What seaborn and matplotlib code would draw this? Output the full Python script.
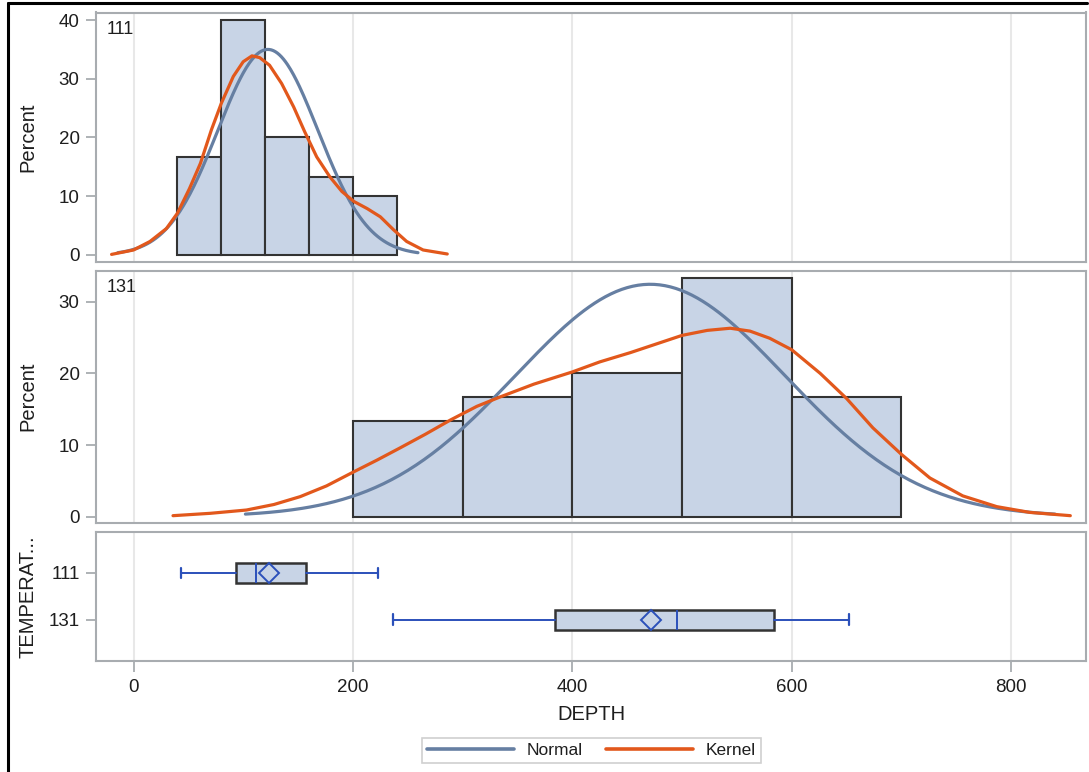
import numpy as np
import pandas as pd
import matplotlib
matplotlib.use("Agg")
import matplotlib.pyplot as plt
from matplotlib.lines import Line2D
import seaborn as sns

# ---------------- data ----------------
GROUPS = ["111", "131"]

BIN_EDGES_111 = [40, 80, 120, 160, 200, 240]
PERCENT_111 = [16.67, 40.0, 20.0, 13.33, 10.0]

BIN_EDGES_131 = [200, 300, 400, 500, 600, 700]
PERCENT_131 = [13.33, 16.67, 20.0, 33.33, 16.67]

# fitted normal parameters (mean, std) per group
NORMAL_MEAN = [122.5, 471.0]
NORMAL_STD = [45.6, 123.0]

# kernel density curves (DEPTH, Percent)
KERNEL_X_111 = [-20, 0, 15, 30, 40, 51, 61, 71, 80, 91, 100, 108, 115, 124, 135, 146, 156, 167,
                179, 190, 201, 213, 225, 237, 249, 264, 286]
KERNEL_Y_111 = [0.1, 0.85, 2.3, 4.5, 7.1, 11.3, 15.6, 21.3, 25.8, 30.4, 32.9, 33.9, 33.6, 32.3,
                29.2, 25.2, 21.0, 16.7, 13.3, 10.8, 9.1, 7.9, 6.5, 4.3, 2.3, 0.85, 0.17]

KERNEL_X_131 = [36, 70, 103, 128, 152, 176, 200, 222, 243, 266, 289, 313, 334, 365, 400, 425,
                453, 500, 523, 544, 562, 580, 600, 626, 650, 674, 700, 726, 756, 787, 817, 854]
KERNEL_Y_131 = [0.14, 0.47, 0.93, 1.7, 2.8, 4.3, 6.2, 7.9, 9.6, 11.5, 13.5, 15.4, 16.7, 18.5,
                20.2, 21.6, 22.9, 25.3, 26.0, 26.3, 25.9, 24.9, 23.3, 20.0, 16.5, 12.4, 8.7,
                5.4, 2.9, 1.4, 0.6, 0.14]

# box plot statistics per group
BOX_MIN = [43.3, 237.0]
BOX_Q1 = [93.2, 384.0]
BOX_MEDIAN = [111.7, 495.5]
BOX_MEAN = [123.2, 471.7]
BOX_Q3 = [157.0, 583.9]
BOX_MAX = [222.6, 652.0]

X_TICKS = [0, 200, 400, 600, 800]

# ---------------- style ----------------
sns.set_theme(style="white")
plt.rcParams["font.family"] = ["Liberation Sans", "DejaVu Sans"]

FILL = "#C8D4E6"
EDGE = "#333333"
NORMAL_C = "#667FA2"
KERNEL_C = "#E2581C"
BOX_BLUE = "#2B50BA"
FRAME = "#A8ACB0"
GRID = "#E8E8E8"
TXT = "#1E1E1E"

TICK_FS = 13.5
LABEL_FS = 14.5
PANEL_FS = 13

W, H = 1089, 772
fig = plt.figure(figsize=(W / 100, H / 100), dpi=100)


def px_axes(x0, y0, x1, y1):
    return fig.add_axes([x0 / W, 1 - y1 / H, (x1 - x0) / W, (y1 - y0) / H])


ax1 = px_axes(96, 12.5, 1086, 261.5)
ax2 = px_axes(96, 270.7, 1086, 522.7)
ax3 = px_axes(96, 531.7, 1086, 660.7)

XLIM = (-34.2, 868.3)
YLABEL_X = -0.059


def style_axes(ax):
    ax.set_xlim(*XLIM)
    for s in ax.spines.values():
        s.set_color(FRAME)
        s.set_linewidth(1.5)
    ax.set_xticks(X_TICKS)
    ax.grid(False)
    for xv in X_TICKS:
        ax.axvline(xv, color=GRID, lw=1.5, zorder=0)
    ax.tick_params(axis="y", which="major", left=True, length=7.3, width=1.3, color=FRAME,
                   labelsize=TICK_FS, pad=4.5, labelcolor=TXT)
    ax.tick_params(axis="x", which="major", bottom=True, length=8, width=1.3, color=FRAME,
                   labelsize=TICK_FS, pad=5.5, labelcolor=TXT)


hist_data = [
    (ax1, BIN_EDGES_111, PERCENT_111, 0, KERNEL_X_111, KERNEL_Y_111, (-1.11, 41.28), [0, 10, 20, 30, 40]),
    (ax2, BIN_EDGES_131, PERCENT_131, 1, KERNEL_X_131, KERNEL_Y_131, (-0.84, 34.33), [0, 10, 20, 30]),
]

for ax, edges, pct, gi, kx, ky, ylim, yt in hist_data:
    style_axes(ax)
    centers = [(a + b) / 2 for a, b in zip(edges[:-1], edges[1:])]
    df = pd.DataFrame({"DEPTH": centers, "Percent": pct})
    sns.histplot(data=df, x="DEPTH", weights="Percent", bins=list(edges), ax=ax, color=FILL,
                 edgecolor=EDGE, linewidth=1.5, alpha=1.0, zorder=2)
    # normal fit curve, scaled to percent of bin width
    bw = edges[1] - edges[0]
    mu, sd = NORMAL_MEAN[gi], NORMAL_STD[gi]
    nx = np.linspace(mu - 3 * sd, mu + 3 * sd, 300)
    ny = 100 * bw * np.exp(-0.5 * ((nx - mu) / sd) ** 2) / (sd * np.sqrt(2 * np.pi))
    sns.lineplot(x=nx, y=ny, ax=ax, color=NORMAL_C, lw=2.3, zorder=3, legend=False)
    sns.lineplot(x=kx, y=ky, ax=ax, color=KERNEL_C, lw=2.3, zorder=4, legend=False)
    ax.set_ylim(*ylim)
    ax.set_yticks(yt)
    ax.set_yticklabels([str(v) for v in yt])
    ax.tick_params(axis="x", bottom=False, labelbottom=False)
    ax.set_xlabel("")
    ax.set_ylabel("Percent", fontsize=LABEL_FS, color=TXT)
    ax.yaxis.set_label_coords(YLABEL_X, 0.5)
    ax.text(0.0105, 0.966, GROUPS[gi], transform=ax.transAxes, ha="left", va="top",
            fontsize=PANEL_FS, color=TXT, zorder=5)

# ---------------- box plot panel ----------------
style_axes(ax3)
stats = []
for i, g in enumerate(GROUPS):
    stats.append(dict(label=g, whislo=BOX_MIN[i], q1=BOX_Q1[i], med=BOX_MEDIAN[i],
                      mean=BOX_MEAN[i], q3=BOX_Q3[i], whishi=BOX_MAX[i]))
ax3.bxp(stats, positions=[0, 1], orientation="horizontal", widths=0.43, patch_artist=True,
        showmeans=True, showfliers=False, capwidths=0.22,
        boxprops=dict(facecolor=FILL, edgecolor=EDGE, linewidth=1.8),
        medianprops=dict(color=BOX_BLUE, linewidth=1.4),
        whiskerprops=dict(color=BOX_BLUE, linewidth=1.4),
        capprops=dict(color=BOX_BLUE, linewidth=1.6),
        meanprops=dict(marker="D", markersize=10.5, markerfacecolor="none",
                       markeredgecolor=BOX_BLUE, markeredgewidth=1.4),
        zorder=3)
ax3.set_ylim(1.88, -0.88)
ax3.set_yticks([0, 1])
ax3.set_yticklabels(GROUPS)
ax3.set_xticks(X_TICKS)
ax3.set_xticklabels([str(v) for v in X_TICKS])
ax3.set_xlim(*XLIM)
ax3.set_ylabel("TEMPERAT...", fontsize=LABEL_FS, color=TXT)
ax3.yaxis.set_label_coords(YLABEL_X, 0.5)
ax3.set_xlabel("DEPTH", fontsize=LABEL_FS, color=TXT, labelpad=6)

# ---------------- legend ----------------
handles = [Line2D([], [], color=NORMAL_C, lw=2.6), Line2D([], [], color=KERNEL_C, lw=2.6)]
leg = fig.legend(handles, ["Normal", "Kernel"], loc="center", bbox_to_anchor=(591.5 / W, 1 - 750.5 / H),
                 ncol=2, frameon=True, fancybox=False, fontsize=12.5, handlelength=5.0,
                 handletextpad=0.75, columnspacing=1.3, borderpad=0.3, labelcolor=TXT)
leg.get_frame().set_edgecolor("#C4C4C4")
leg.get_frame().set_linewidth(1.2)

# ---------------- outer black frame (top and left) ----------------
fig.add_artist(Line2D([7.5 / W, 1087 / W], [1 - 3.3 / H, 1 - 3.3 / H], color="black", lw=2.2,
                      transform=fig.transFigure))
fig.add_artist(Line2D([7.5 / W, 7.5 / W], [1 - 3.3 / H, 0], color="black", lw=2.2,
                      transform=fig.transFigure))

fig.savefig("out.png", dpi=100, facecolor="white")
